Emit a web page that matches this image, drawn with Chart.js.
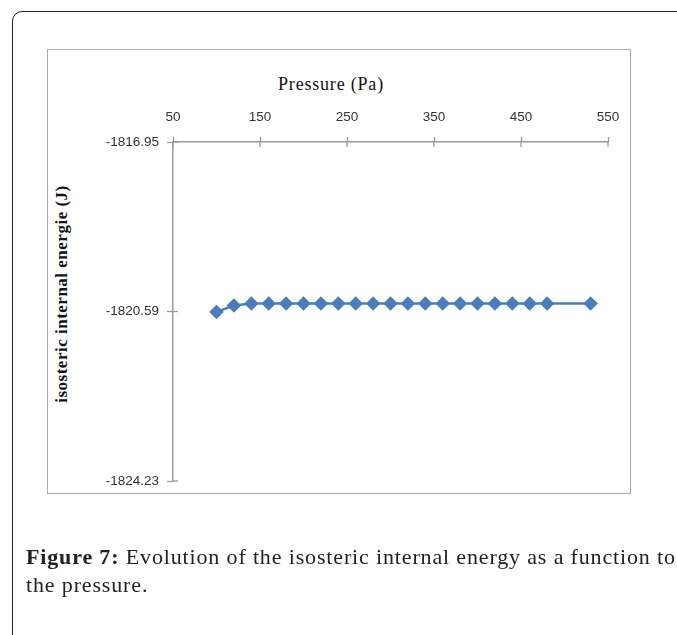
<!DOCTYPE html>
<html>
<head>
<meta charset="utf-8">
<script src="https://cdn.jsdelivr.net/npm/chart.js@4.4.1/dist/chart.umd.min.js"></script>
<style>
  html, body { margin: 0; padding: 0; background: #fff; }
  #page { position: relative; width: 677px; height: 635px; overflow: hidden; }
  #frame { position: absolute; left: 12px; top: 11px; width: 720px; height: 700px;
           border: 1.5px solid #222; border-radius: 10px; }
  #plotBox { position: absolute; left: 47px; top: 49px; width: 582px; height: 443px;
             border: 1px solid #a8a8a8; }
  #xTitle { position: absolute; left: 331px; top: 84px; white-space: nowrap;
            transform: translate(-50%, -50%); letter-spacing: 0.8px;
            font: 18px "Liberation Serif", serif; color: #111; }
  #yTitle { position: absolute; left: 62px; top: 294px; white-space: nowrap;
            transform: translate(-50%, -50%) rotate(-90deg); letter-spacing: 0.5px;
            font: bold 17px "Liberation Serif", serif; color: #111; }
  #wrap { position: absolute; left: 0; top: 0; width: 677px; height: 635px; }
  #caption { position: absolute; left: 26px; top: 543px; white-space: nowrap; letter-spacing: 0.85px;
             font: 22px/28px "Liberation Serif", serif; color: #222; }
</style>
</head>
<body>
<div id="page">
  <div id="frame"></div>
  <div id="plotBox"></div>
  <div id="xTitle">Pressure (Pa)</div>
  <div id="yTitle">isosteric internal energie (J)</div>
  <div id="wrap"><canvas id="energyChart"></canvas></div>
  <div id="caption"><b>Figure 7:</b> Evolution of the isosteric internal energy as a function to<br>the pressure.</div>
</div>
<script>
// data
const pressure = [100, 120, 140, 160, 180, 200, 220, 240, 260, 280,
                  300, 320, 340, 360, 380, 400, 420, 440, 460, 480, 530];
const energy = [-1820.60, -1820.46, -1820.42, -1820.42, -1820.42, -1820.42, -1820.42,
                -1820.42, -1820.42, -1820.42, -1820.42, -1820.42, -1820.42, -1820.42,
                -1820.42, -1820.42, -1820.42, -1820.42, -1820.42, -1820.42, -1820.42];
const xTicks = [50, 150, 250, 350, 450, 550];
const yTicks = [-1824.23, -1820.59, -1816.95];

const axisColor = '#9a9a9a';
const tickFont = { family: 'Liberation Sans', size: 13.5 };

// ticks in the original cross the axis line, so draw the inner half too
const crossTicks = {
  id: 'crossTicks',
  afterDraw(chart) {
    const { ctx, scales: { x, y } } = chart;
    ctx.save();
    ctx.strokeStyle = axisColor;
    ctx.lineWidth = 1.3;
    x.ticks.forEach(t => {
      const px = x.getPixelForValue(t.value);
      ctx.beginPath();
      ctx.moveTo(px, x.bottom);
      ctx.lineTo(px, x.bottom + 5);
      ctx.stroke();
    });
    y.ticks.forEach(t => {
      const py = y.getPixelForValue(t.value);
      ctx.beginPath();
      ctx.moveTo(y.right, py);
      ctx.lineTo(y.right + 5, py);
      ctx.stroke();
    });
    ctx.restore();
  }
};

const ctx = document.getElementById('energyChart').getContext('2d');
new Chart(ctx, {
  type: 'scatter',
  data: {
    datasets: [{
      data: pressure.map((p, i) => ({ x: p, y: energy[i] })),
      showLine: true,
      borderColor: '#4a7ebb',
      backgroundColor: '#4a7ebb',
      borderWidth: 2.5,
      pointStyle: 'rectRot',
      pointRadius: 5.5,
      pointHoverRadius: 5.5,
      tension: 0
    }]
  },
  options: {
    responsive: true,
    maintainAspectRatio: false,
    animation: false,
    layout: { padding: { left: 0, top: 0, right: 69, bottom: 154 } },
    plugins: { legend: { display: false }, tooltip: { enabled: false } },
    scales: {
      x: {
        type: 'linear',
        position: 'top',
        min: 50,
        max: 550,
        afterBuildTicks: s => { s.ticks = xTicks.map(v => ({ value: v })); },
        afterFit: s => { s.height = 142; },
        ticks: { font: tickFont, color: '#333', padding: 12, maxRotation: 0 },
        grid: { drawOnChartArea: false, drawTicks: true, tickLength: 5, color: axisColor, tickWidth: 1.3 },
        border: { color: axisColor, width: 1.5 }
      },
      y: {
        type: 'linear',
        min: -1824.23,
        max: -1816.95,
        afterBuildTicks: s => { s.ticks = yTicks.map(v => ({ value: v })); },
        afterFit: s => { s.width = 173; },
        ticks: { font: tickFont, color: '#333', padding: 8, callback: v => v.toFixed(2) },
        grid: { drawOnChartArea: false, drawTicks: true, tickLength: 6, color: axisColor, tickWidth: 1.3 },
        border: { color: axisColor, width: 1.5 }
      }
    }
  },
  plugins: [crossTicks]
});
</script>
</body>
</html>
